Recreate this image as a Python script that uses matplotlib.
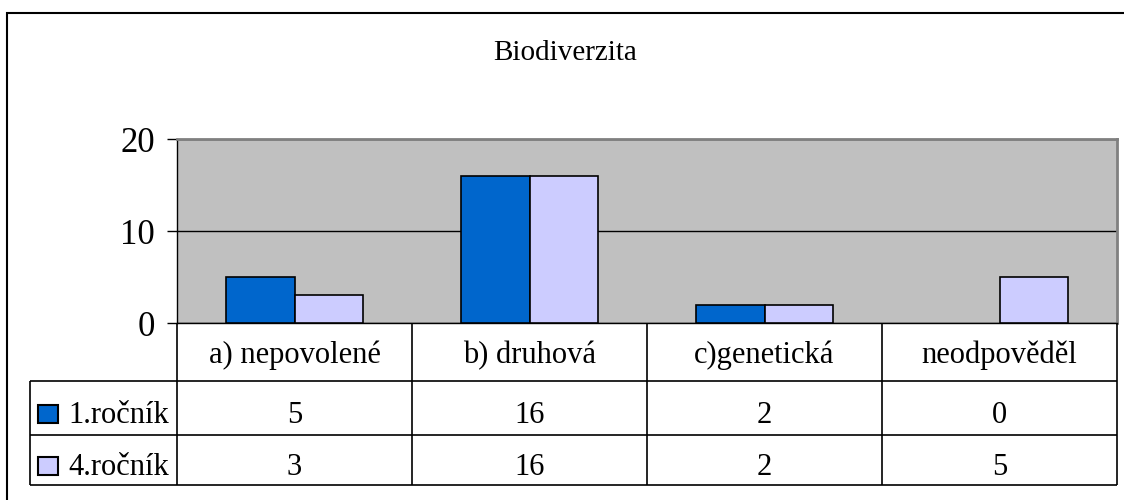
import numpy as np
import matplotlib.pyplot as plt
from matplotlib.patches import Rectangle

title = 'Biodiverzita'
categories = ['a) nepovolené', 'b) druhová', 'c)genetická', 'neodpověděl']
series = ['1.ročník', '4.ročník']
rocnik1 = [5, 16, 2, 0]
rocnik4 = [3, 16, 2, 5]
yticks = [0, 10, 20]

colors = ['#0066cc', '#ccccff']
W, H = 1124, 500

plt.rcParams['font.family'] = ['Liberation Serif', 'DejaVu Serif']


def fx(px):
    return px / W


def fy(py):
    return 1 - py / H


fig = plt.figure(figsize=(W / 100, H / 100), dpi=100)

# outer frame (right/bottom edges fall outside the picture)
fig.add_artist(Rectangle((fx(7), fy(H + 20)), fx(W + 20), (H + 20 - 13) / H,
                         transform=fig.transFigure, fill=False,
                         edgecolor='black', linewidth=1.5))

fig.text(fx(565), fy(53), title, ha='center', va='center', fontsize=21)

# plot area, pixels
left, right, top, zero = 177, 1117, 139, 323
ax = fig.add_axes([fx(left), fy(zero), fx(right - left), (zero - top) / H])
ax.set_facecolor('#c0c0c0')

x = np.arange(len(categories))
bw = 0.29
for vals, col, w in zip([rocnik1, rocnik4], colors, [-bw, bw]):
    ax.bar(x, vals, width=w, align='edge', color=col, edgecolor='black',
           linewidth=[1.2 if v else 0 for v in vals], zorder=3)

ax.set_xlim(-0.5, len(categories) - 0.5)
ax.set_ylim(0, 20)
ax.set_yticks(yticks)
ax.set_xticks([])
ax.set_axisbelow(True)
ax.yaxis.grid(True, color='black', linewidth=1)
ax.tick_params(axis='y', direction='out', length=7, width=1,
               labelsize=25, pad=9)
for s in ['top', 'right']:
    ax.spines[s].set_color('#808080')
    ax.spines[s].set_linewidth(2)
ax.spines['left'].set_linewidth(1)
ax.spines['bottom'].set_linewidth(1)

# data table under the plot
rows = [323, 381, 435, 485]
cw = (right - left) / len(categories)
x0 = -0.5 - (left - 30) / cw
tab = fig.add_axes([fx(30), fy(rows[-1]), fx(right - 30), (rows[-1] - rows[0]) / H])
tab.set_xlim(x0, len(categories) - 0.5)
tab.set_ylim(rows[-1], rows[0])
tab.axis('off')

lw = 1.2
tab.hlines(rows[1:], x0, len(categories) - 0.5, color='black', linewidth=lw, clip_on=False)
tab.vlines(np.arange(len(categories) + 1) - 0.5, rows[0], rows[-1],
           color='black', linewidth=lw, clip_on=False)
tab.vlines([x0], rows[1], rows[-1], color='black', linewidth=lw, clip_on=False)

fs = 22
for i, c in enumerate(categories):
    tab.text(i, 363, c, ha='center', va='baseline', fontsize=fs)

baselines = [423, 475]
for vals, name, col, base in zip([rocnik1, rocnik4], series, colors, baselines):
    for i, v in enumerate(vals):
        tab.text(i, base, str(v), ha='center', va='baseline', fontsize=fs)
    tab.add_patch(Rectangle((x0 + 8 / cw, base - 18), 20 / cw, 18,
                            facecolor=col, edgecolor='black', linewidth=1.5,
                            clip_on=False))
    tab.text(x0 + 38 / cw, base, name, ha='left', va='baseline', fontsize=fs)

fig.savefig('out.png', dpi=100)
